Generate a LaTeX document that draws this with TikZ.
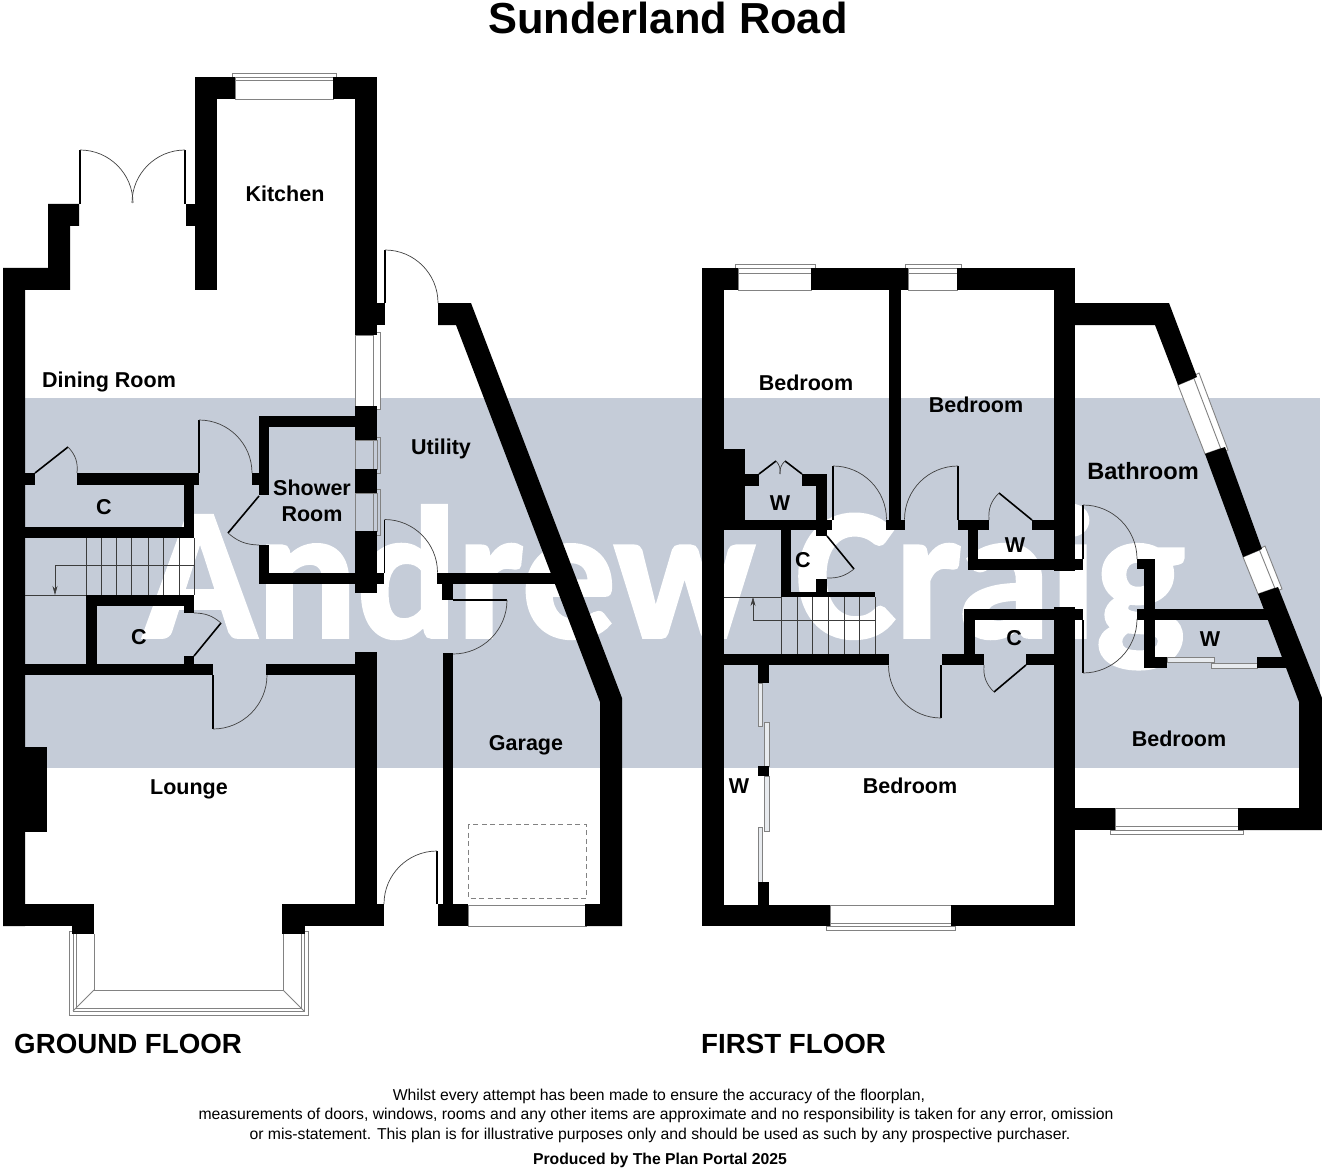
\documentclass[tikz,border=0pt]{standalone}
\usepackage{fontspec}
\setmainfont{Liberation Sans}
\newfontfamily\markfont[BoldFeatures={FakeBold=2}]{Carlito}
\usepackage[svgnames]{xcolor}
\usetikzlibrary{arrows.meta}
\definecolor{bandColor}{RGB}{197, 204, 216}
\definecolor{glassLine}{RGB}{130, 130, 130}
\definecolor{treadLine}{RGB}{60, 60, 60}
\tikzset{
    wall/.style={fill=black, draw=none},
    leaf/.style={draw=black, line width=1.6pt},
    swing/.style={draw=black!75, line width=0.7pt},
    glass/.style={draw=glassLine, line width=0.9pt, fill=white},
    clearglass/.style={draw=glassLine, line width=0.9pt},
    tread/.style={draw=treadLine, line width=0.6pt},
    room/.style={font=\fontsize{21.5}{26}\selectfont\bfseries, inner sep=0pt, align=center},
    floorname/.style={font=\fontsize{27.7}{32}\selectfont\bfseries, inner sep=0pt, anchor=west},
    small/.style={font=\fontsize{15.75}{18}\selectfont, inner sep=0pt}
}
\begin{document}
\begin{tikzpicture}[x=1pt, y=-1pt]
    \useasboundingbox (0,0) rectangle (1322,1174);

    % band and watermark
    \fill[bandColor] (3,398) rectangle (1320,768);
    \node[text=white, inner sep=0pt, font=\fontsize{187}{220}\selectfont\markfont\bfseries, anchor=base] (mark) at (664,637) {Andrew Craig};

    % ground floor glass
    \foreach \xa/\ya/\xb/\yb in {235/77/333/99, 355/335/377/406, 373/332/380/409, 468/905/586/926, 232/73/336/77}
        \filldraw[glass] (\xa,\ya) rectangle (\xb,\yb);
    \draw[glass, fill=none] (235,80) -- (333,80);
    \foreach \xa/\ya/\xb/\yb in {355/440/377/469, 373/437/380/473, 355/493/377/531, 373/489/380/535}
        \draw[clearglass] (\xa,\ya) rectangle (\xb,\yb);
    \draw[clearglass] (94,934) -- (94,990) -- (283,990) -- (283,934);
    \draw[clearglass] (72,931) -- (69,931) -- (69,1015) -- (308,1015) -- (308,931) -- (305,931);
    \draw[clearglass] (73,931) -- (73,1011) -- (304,1011) -- (304,931);
    \draw[clearglass] (76,934) -- (76,1008) -- (301,1008) -- (301,934);
    \draw[clearglass] (94,990) -- (73,1011);
    \draw[clearglass] (283,990) -- (304,1011);

    % ground floor walls
    \fill[wall] (3,926) -- (3,268) -- (48,268) -- (48,204) -- (79,204) -- (79,226) -- (70,226) -- (70,290) -- (25,290) -- (25,926) -- cycle;
    \fill[wall] (438,303) -- (471,303) -- (622,698) -- (622,926) -- (585,926) -- (585,904) -- (600,904) -- (600,702) -- (456,325) -- (438,325) -- cycle;
    \foreach \xa/\ya/\xb/\yb in {
        195/77/217/290, 195/77/235/99, 333/77/377/99, 186/204/195/226,
        355/77/377/335, 377/303/385/325, 355/406/377/440, 355/469/377/493, 355/531/377/593, 355/652/377/926,
        3/904/94/926, 72/926/94/934, 282/904/384/926, 282/926/305/934,
        25/747/47/832,
        25/473/35/485, 77/473/199/485, 184/485/194/527, 25/527/194/538,
        86/595/194/606, 184/606/194/613, 86/606/97/664, 184/656/194/664,
        25/664/213/675, 266/664/355/675,
        252/473/259/485, 259/416/269/495, 259/416/355/427, 259/545/269/584, 259/573/384/584,
        437/573/560/584, 442/584/453/600, 443/653/453/904, 438/904/468/926}
        \fill[wall] (\xa,\ya) rectangle (\xb,\yb);

    % ground floor doors
    \draw[leaf] (80,204) -- (80,150);
    \draw[swing] (80,150) arc[start angle=-90, end angle=0, radius=53];
    \draw[leaf] (185,204) -- (185,150);
    \draw[swing] (185,150) arc[start angle=-90, end angle=-180, radius=53];
    \draw[leaf] (385,303) -- (385,250);
    \draw[swing] (385,250) arc[start angle=-90, end angle=0, radius=53];
    \draw[leaf] (199,473) -- (199,420);
    \draw[swing] (199,420) arc[start angle=-90, end angle=0, radius=53];
    \draw[leaf] (384.5,573) -- (384.5,519.5);
    \draw[swing] (384.5,519.5) arc[start angle=-90, end angle=0, radius=53];
    \draw[leaf] (453,600) -- (507,600);
    \draw[swing] (507,600) arc[start angle=0, end angle=90, radius=54];
    \draw[leaf] (213,675) -- (213,729);
    \draw[swing] (213,729) arc[start angle=90, end angle=0, radius=54];
    \draw[leaf] (437,904) -- (437,851);
    \draw[swing] (437,851) arc[start angle=-90, end angle=-180, radius=53];
    \draw[leaf] (35,473) -- (68,447);
    \draw[swing] (68,447) to[bend left=25] (77,473);
    \draw[leaf] (259,496) -- (228,533);
    \draw[swing] (228,533) to[bend right=20] (259,545);
    \draw[leaf] (194,656) -- (221,623);
    \draw[swing] (221,623) to[bend right=20] (194,613);

    % ground floor stairs
    \foreach \tx in {86,101,116,131,148,163,179,194}
        \draw[tread] (\tx,538) -- (\tx,595);
    \draw[tread] (25,595) -- (86,595);
    \draw[tread, -{Stealth[length=9pt, width=5pt]}] (194,565) -- (55,565) -- (55,595);

    % garage bay
    \draw[draw=glassLine, line width=0.8pt, dash pattern=on 5pt off 3.5pt] (468,824) rectangle (586,898);

    % first floor glass
    \foreach \xa/\ya/\xb/\yb in {738/268/811/290, 735/264/815/268, 908/268/957/290, 905/264/961/268, 830/905/951/926, 826/926/955/930, 1115/808/1238/830, 1110/830/1243/834}
        \filldraw[glass] (\xa,\ya) rectangle (\xb,\yb);
    \draw[clearglass] (738,273) -- (811,273);
    \draw[clearglass] (908,273) -- (957,273);
    \draw[clearglass] (830,923) -- (951,923);
    \draw[clearglass] (1115,826) -- (1238,826);
    \filldraw[glass] (1178,385) -- (1197,377) -- (1225,447) -- (1205,454) -- cycle;
    \filldraw[glass] (1243,557) -- (1262,549) -- (1278,587) -- (1258,594) -- cycle;
    \filldraw[glass] (1193,376) -- (1199,373) -- (1228,450) -- (1222,452) -- cycle;
    \filldraw[glass] (1259,549) -- (1265,546) -- (1282,589) -- (1276,591) -- cycle;
    \foreach \xa/\ya/\xb/\yb in {758/683/762/726, 764/722/769/766, 764/776/769/831, 758/827/762/882, 1167/657/1214/662, 1211/663/1257/668}
        \filldraw[glass, fill=white!60!bandColor] (\xa,\ya) rectangle (\xb,\yb);

    % first floor walls
    \fill[wall] (1075,303) -- (1169,303) -- (1197,377) -- (1178,385) -- (1155,325) -- (1075,325) -- cycle;
    \fill[wall] (1225,447) -- (1262,549) -- (1243,557) -- (1205,454) -- cycle;
    \fill[wall] (1278,587) -- (1322,698) -- (1322,830) -- (1238,830) -- (1238,808) -- (1299,808) -- (1299,702) -- (1258,594) -- cycle;
    \foreach \xa/\ya/\xb/\yb in {
        702/268/724/926, 702/268/738/290, 811/268/908/290, 957/268/1075/290,
        1054/268/1075/571, 1054/607/1075/926,
        702/905/830/926, 951/905/1075/926, 1075/808/1115/830,
        889/290/901/530, 886/520/905/530,
        724/449/745/530, 724/520/832/530, 745/474/759/486, 802/474/827/486, 816/474/827/536,
        781/530/791/597, 816/579/827/592, 781/592/875/597,
        724/654/889/665, 942/654/984/665, 964/609/975/654, 964/609/1083/620, 1026/654/1054/665,
        958/520/989/530, 1032/520/1054/530, 968/530/978/570, 968/559/1083/570,
        758/665/769/683, 758/766/769/776, 758/882/769/905,
        1137/559/1155/569, 1144/559/1155/668, 1144/657/1167/668, 1137/609/1275/620, 1257/657/1288/668}
        \fill[wall] (\xa,\ya) rectangle (\xb,\yb);

    % first floor doors
    \draw[leaf] (833,520) -- (833,466);
    \draw[swing] (833,466) arc[start angle=-90, end angle=0, radius=53.5];
    \draw[leaf] (958,520) -- (958,466);
    \draw[swing] (958,466) arc[start angle=-90, end angle=-180, radius=53.5];
    \draw[leaf] (941,665) -- (941,718);
    \draw[swing] (941,718) arc[start angle=90, end angle=180, radius=52.5];
    \draw[leaf] (1083,559) -- (1083,505);
    \draw[swing] (1083,505) arc[start angle=-90, end angle=0, radius=54];
    \draw[leaf] (1083,620) -- (1083,673);
    \draw[swing] (1083,673) arc[start angle=90, end angle=0, radius=54];
    \draw[leaf] (759,474) -- (776,461);
    \draw[swing] (776,461) to[bend left=25] (780,474);
    \draw[leaf] (802,474) -- (785,461);
    \draw[swing] (785,461) to[bend right=25] (780,474);
    \draw[leaf] (827,536) -- (854,569);
    \draw[swing] (854,569) to[bend left=20] (827,578);
    \draw[leaf] (1032,520) -- (999,493);
    \draw[swing] (999,493) to[bend right=25] (989,520);
    \draw[leaf] (1026,665) -- (994,692);
    \draw[swing] (994,692) to[bend left=25] (984,665);

    % first floor stairs
    \foreach \tx in {781,797,812,828,844,859,875}
        \draw[tread] (\tx,597) -- (\tx,654);
    \draw[tread] (724,597) -- (781,597);
    \draw[tread, -{Stealth[length=9pt, width=5pt]}] (875,620) -- (753,620) -- (753,597);

    % labels
    \node[font=\fontsize{43.4}{50}\selectfont\bfseries, inner sep=0pt] (title) at (668,18) {Sunderland Road};
    \node[room] (kitchen) at (285,194) {Kitchen};
    \node[room] (dining) at (109,382) {Dining Room};
    \node[room] (shower) at (312,501) {Shower\\Room};
    \node[room] (cupa) at (104,507) {C};
    \node[room] (cupb) at (139,637) {C};
    \node[room] (utility) at (441,449) {Utility};
    \node[room] (lounge) at (189,789) {Lounge};
    \node[room] (garage) at (526,745) {Garage};
    \node[room] (bedA) at (806,383) {Bedroom};
    \node[room] (bedB) at (976,405) {Bedroom};
    \node[room] (bedC) at (1179,739) {Bedroom};
    \node[room] (bedD) at (910,786) {Bedroom};
    \node[room, font=\fontsize{23.6}{26}\selectfont\bfseries] (bath) at (1143,471) {Bathroom};
    \node[room] (wardA) at (780,503) {W};
    \node[room] (wardB) at (1015,545) {W};
    \node[room] (wardC) at (1210,639) {W};
    \node[room] (wardD) at (739,786) {W};
    \node[room] (cupc) at (803,560) {C};
    \node[room] (cupd) at (1014,638) {C};
    \node[floorname] (ground) at (14,1044) {GROUND FLOOR};
    \node[floorname] (first) at (701,1044) {FIRST FLOOR};
    \node[small] (noteA) at (659,1096) {Whilst every attempt has been made to ensure the accuracy of the floorplan,};
    \node[small] (noteB) at (656,1115) {measurements of doors, windows, rooms and any other items are approximate and no responsibility is taken for any error, omission};
    \node[small] (noteC) at (660,1135) {or mis-statement. This plan is for illustrative purposes only and should be used as such by any prospective purchaser.};
    \node[small, font=\fontsize{15.75}{18}\selectfont\bfseries] (credit) at (660,1160) {Produced by The Plan Portal 2025};
\end{tikzpicture}
\end{document}
